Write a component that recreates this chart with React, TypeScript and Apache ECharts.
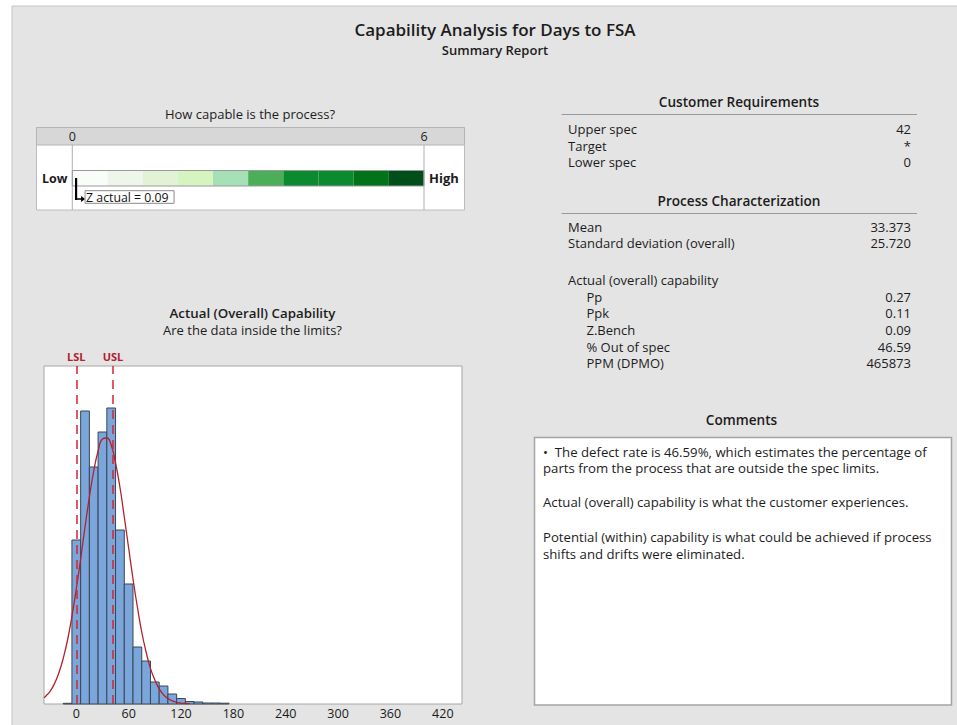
import React, { useEffect, useRef } from "react";
import * as echarts from "echarts";

// ---------- data ----------
const titleMain = "Capability Analysis for Days to FSA";
const titleSub = "Summary Report";

// histogram (bin centres, width 10) and frequencies
const binCenters = [-10, 0, 10, 20, 30, 40, 50, 60, 70, 80, 90, 100, 110, 120, 130, 140, 150, 160, 170];
const binFreq = [0.7, 164, 293, 237, 272, 296, 174, 120, 57, 43, 22, 18, 10, 5.5, 2.5, 2, 1, 1, 0.8];
const binWidth = 10;

// fitted normal curve (overall)
const curveX = [-37, -35, -30, -25, -20, -15, -10, -5, 0, 5, 10, 15, 20, 25, 30, 35, 40, 45, 50, 55, 60, 65, 70, 75, 80, 85, 90, 95, 100, 105, 110, 115, 120, 125, 130];
const curveY = [6.3, 7.8, 12.7, 20.3, 31, 45.5, 64, 87.7, 115, 145, 177, 207, 233, 253, 265, 266, 259, 241, 217, 187, 156, 125, 97, 72, 52, 35.6, 24, 15.1, 9.3, 5.5, 3.2, 1.7, 0.9, 0.5, 0.3];

const specNames = ["LSL", "USL"];
const specValues = [0, 42];
const xTickLabels = [0, 60, 120, 180, 240, 300, 360, 420];

// capability scale
const capScaleLabels = [0, 6];
const capSegColors = ["#fafcfa", "#eef6ec", "#e1f2d5", "#d5f4c0", "#a5e0b6", "#4dae5a", "#0b8a2f", "#0b8a2f", "#00731b", "#004f1b"];
const zActual = 0.09;
const zLabel = "Z actual = 0.09";

// tables
const crLabels = ["Upper spec", "Target", "Lower spec"];
const crValues = ["42", "*", "0"];
const pcLabels = ["Mean", "Standard deviation (overall)"];
const pcValues = ["33.373", "25.720"];
const capHeader = "Actual (overall) capability";
const capLabels = ["Pp", "Ppk", "Z.Bench", "% Out of spec", "PPM (DPMO)"];
const capValues = ["0.27", "0.11", "0.09", "46.59", "465873"];

const commentLines = [
  "\u2022  The defect rate is 46.59%, which estimates the percentage of",
  "parts from the process that are outside the spec limits.",
  "",
  "Actual (overall) capability is what the customer experiences.",
  "",
  "Potential (within) capability is what could be achieved if process",
  "shifts and drifts were eliminated.",
];

const FONT = "'Open Sans', 'Noto Sans', sans-serif";
const TXT = "#1c1c1c";

export default function App() {
  const ref = useRef<HTMLDivElement>(null);

  useEffect(() => {
    if (!ref.current) return;
    const chart = echarts.init(ref.current, undefined, { renderer: "svg" });

    const histData = binCenters.map((c, i) => [c - binWidth / 2, c + binWidth / 2, binFreq[i]]);
    const curveData = curveX.map((x, i) => [x, curveY[i]]);
    const segData = capSegColors.map((_, i) => [(i * 6) / capSegColors.length, ((i + 1) * 6) / capSegColors.length]);

    const g: any[] = [];
    const text = (x: number, y: number, t: string, o: any = {}) =>
      g.push({
        type: "text",
        x,
        y,
        silent: true,
        style: {
          text: t,
          fill: o.fill || TXT,
          font: `${o.weight || "normal"} ${o.size || 12}px ${FONT}`,
          textAlign: o.align || "left",
          textVerticalAlign: "middle",
        },
        z: 10,
      });

    // background
    g.push({ type: "rect", shape: { x: 12, y: 6, width: 950, height: 725 }, style: { fill: "#e4e4e4", stroke: "#c4c4c4", lineWidth: 1 }, z: -10, silent: true });

    // titles
    text(495, 29, titleMain, { size: 17, weight: 600, align: "center" });
    text(495, 50, titleSub, { size: 13, weight: 600, align: "center" });

    // capability panel
    text(250, 114, "How capable is the process?", { size: 13, weight: 500, align: "center" });
    g.push({ type: "rect", shape: { x: 36.5, y: 127.5, width: 428, height: 82.5 }, style: { fill: "#ffffff", stroke: "#bcbcbc", lineWidth: 1 }, z: -5, silent: true });
    g.push({ type: "rect", shape: { x: 36.5, y: 127.5, width: 428, height: 17.5 }, style: { fill: "#d7d7d7", stroke: "#b4b4b4", lineWidth: 1 }, z: -4, silent: true });
    text(42, 178, "Low", { size: 12.5, weight: "bold" });
    text(429, 178, "High", { size: 13, weight: "bold" });

    // histogram panel titles
    text(252.5, 313, "Actual (Overall) Capability", { size: 13.3, weight: 600, align: "center" });
    text(252.5, 330, "Are the data inside the limits?", { size: 13, align: "center" });

    // customer requirements
    const lx = 568, rx = 911, ix = 586.5;
    const bs = 13;
    text(739, 101.5, "Customer Requirements", { size: 13.6, weight: 600, align: "center" });
    g.push({ type: "line", shape: { x1: 561.5, y1: 114.5, x2: 917, y2: 114.5 }, style: { stroke: "#9a9a9a", lineWidth: 1 }, silent: true });
    crLabels.forEach((l, i) => {
      text(lx, 129.3 + i * 16.35, l, { size: bs });
      text(rx, 129.3 + i * 16.35, crValues[i], { size: bs, align: "right" });
    });
    text(739, 200, "Process Characterization", { size: 13.6, weight: 600, align: "center" });
    g.push({ type: "line", shape: { x1: 561.5, y1: 213.5, x2: 917, y2: 213.5 }, style: { stroke: "#9a9a9a", lineWidth: 1 }, silent: true });
    pcLabels.forEach((l, i) => {
      text(lx, 226.7 + i * 16.6, l, { size: bs });
      text(rx, 226.7 + i * 16.6, pcValues[i], { size: bs, align: "right" });
    });
    text(lx, 280, capHeader, { size: bs });
    capLabels.forEach((l, i) => {
      text(ix, 296.7 + i * 16.65, l, { size: bs });
      text(rx, 296.7 + i * 16.65, capValues[i], { size: bs, align: "right" });
    });

    // comments
    text(741.5, 419, "Comments", { size: 13.6, weight: 600, align: "center" });
    g.push({ type: "rect", shape: { x: 534.5, y: 437.5, width: 417, height: 267.5 }, style: { fill: "#ffffff", stroke: "#a4a4a4", lineWidth: 1.5 }, z: -5, silent: true });
    const cy = [451.7, 468.3, 0, 501.7, 0, 536.7, 553.5];
    commentLines.forEach((l, i) => {
      if (l) text(543, cy[i], l, { size: 13.2 });
    });

    const option: any = {
      animation: false,
      backgroundColor: "#ffffff",
      textStyle: { fontFamily: FONT },
      graphic: { elements: g },
      grid: [
        { left: 44, top: 366, width: 418, height: 338, show: true, backgroundColor: "#ffffff", borderColor: "#a6a6a6", borderWidth: 1 },
        { left: 72.3, top: 145, width: 351.7, height: 65, show: false },
      ],
      xAxis: [
        {
          type: "value",
          gridIndex: 0,
          min: -37,
          max: 442,
          axisLine: { show: false },
          axisTick: { show: false },
          splitLine: { show: false },
          axisLabel: { customValues: xTickLabels, color: "#1a1a1a", fontSize: 12.5, fontWeight: 500, margin: 3, fontFamily: FONT },
        },
        {
          type: "value",
          gridIndex: 1,
          min: 0,
          max: 6,
          position: "top",
          axisLine: { show: false },
          axisTick: { show: false },
          splitLine: { show: false },
          axisLabel: { customValues: capScaleLabels, color: "#222", fontSize: 12.5, margin: 2, fontFamily: FONT },
        },
      ],
      yAxis: [
        { type: "value", gridIndex: 0, min: 0, max: 338, show: false, splitLine: { show: false } },
        { type: "value", gridIndex: 1, min: 0, max: 65, show: false, splitLine: { show: false } },
      ],
      series: [
        {
          type: "custom",
          name: "Histogram",
          xAxisIndex: 0,
          yAxisIndex: 0,
          data: histData,
          renderItem: (params: any, api: any) => {
            const p0 = api.coord([api.value(0), api.value(2)]);
            const p1 = api.coord([api.value(1), 0]);
            return {
              type: "rect",
              shape: { x: p0[0], y: p0[1], width: p1[0] - p0[0], height: p1[1] - p0[1] },
              style: { fill: "#7ba6db", stroke: "#3a4654", lineWidth: 1 },
            };
          },
          z: 2,
        },
        {
          type: "line",
          name: "Overall",
          xAxisIndex: 0,
          yAxisIndex: 0,
          data: curveData,
          smooth: true,
          showSymbol: false,
          lineStyle: { color: "#b3202e", width: 1.3 },
          z: 3,
          markLine: {
            silent: true,
            symbol: ["none", "none"],
            lineStyle: { color: "#d42532", type: [9, 6], width: 1.5 },
            label: { show: true, position: "end", formatter: "{b}", color: "#b3202e", fontSize: 11, fontWeight: "bold", distance: 4, fontFamily: FONT },
            data: specNames.map((n, i) => ({ name: n, xAxis: specValues[i] })),
          },
        },
        {
          type: "custom",
          name: "Scale",
          xAxisIndex: 1,
          yAxisIndex: 1,
          data: segData,
          renderItem: (params: any, api: any) => {
            const p0 = api.coord([api.value(0), 39.5]);
            const p1 = api.coord([api.value(1), 24]);
            return {
              type: "rect",
              shape: { x: p0[0], y: p0[1], width: p1[0] - p0[0], height: p1[1] - p0[1] },
              style: { fill: capSegColors[params.dataIndex] },
            };
          },
          z: 2,
        },
        {
          type: "custom",
          name: "Frame",
          xAxisIndex: 1,
          yAxisIndex: 1,
          data: [[0, 6]],
          renderItem: (params: any, api: any) => {
            const a = api.coord([api.value(0), 65]);
            const b = api.coord([api.value(1), 0]);
            const c0 = api.coord([api.value(0), 39.5]);
            const c1 = api.coord([api.value(1), 24]);
            return {
              type: "group",
              children: [
                { type: "line", shape: { x1: a[0], y1: a[1], x2: a[0], y2: b[1] }, style: { stroke: "#b0b0b0", lineWidth: 1 } },
                { type: "line", shape: { x1: b[0], y1: a[1], x2: b[0], y2: b[1] }, style: { stroke: "#b0b0b0", lineWidth: 1 } },
                { type: "rect", shape: { x: c0[0], y: c0[1], width: c1[0] - c0[0], height: c1[1] - c0[1] }, style: { fill: "none", stroke: "#9a9a9a", lineWidth: 1 } },
              ],
            };
          },
          z: 3,
        },
        {
          type: "custom",
          name: "Z actual",
          xAxisIndex: 1,
          yAxisIndex: 1,
          data: [[zActual]],
          renderItem: (params: any, api: any) => {
            const p = api.coord([api.value(0), 32]);
            const x = p[0] - 1.5;
            const y = p[1];
            return {
              type: "group",
              children: [
                { type: "line", shape: { x1: x, y1: y, x2: x, y2: y + 22 }, style: { stroke: "#000", lineWidth: 2.2 } },
                { type: "line", shape: { x1: x, y1: y + 21, x2: x + 6, y2: y + 21 }, style: { stroke: "#000", lineWidth: 1.5 } },
                { type: "polygon", shape: { points: [[x + 5, y + 18], [x + 9, y + 21], [x + 5, y + 24]] }, style: { fill: "#000" } },
                { type: "rect", shape: { x: x + 9, y: y + 12.7, width: 89, height: 12.6 }, style: { fill: "#ffffff", stroke: "#8a8a8a", lineWidth: 1 } },
                { type: "text", x: x + 10, y: y + 19.2, style: { text: zLabel, fill: "#111", font: `12.3px ${FONT}`, textVerticalAlign: "middle" } },
              ],
            };
          },
          z: 4,
        },
      ],
    };
    chart.setOption(option);
    return () => chart.dispose();
  }, []);

  return <div ref={ref} style={{ position: "fixed", left: 0, top: 0, width: 957, height: 725 }} />;
}
